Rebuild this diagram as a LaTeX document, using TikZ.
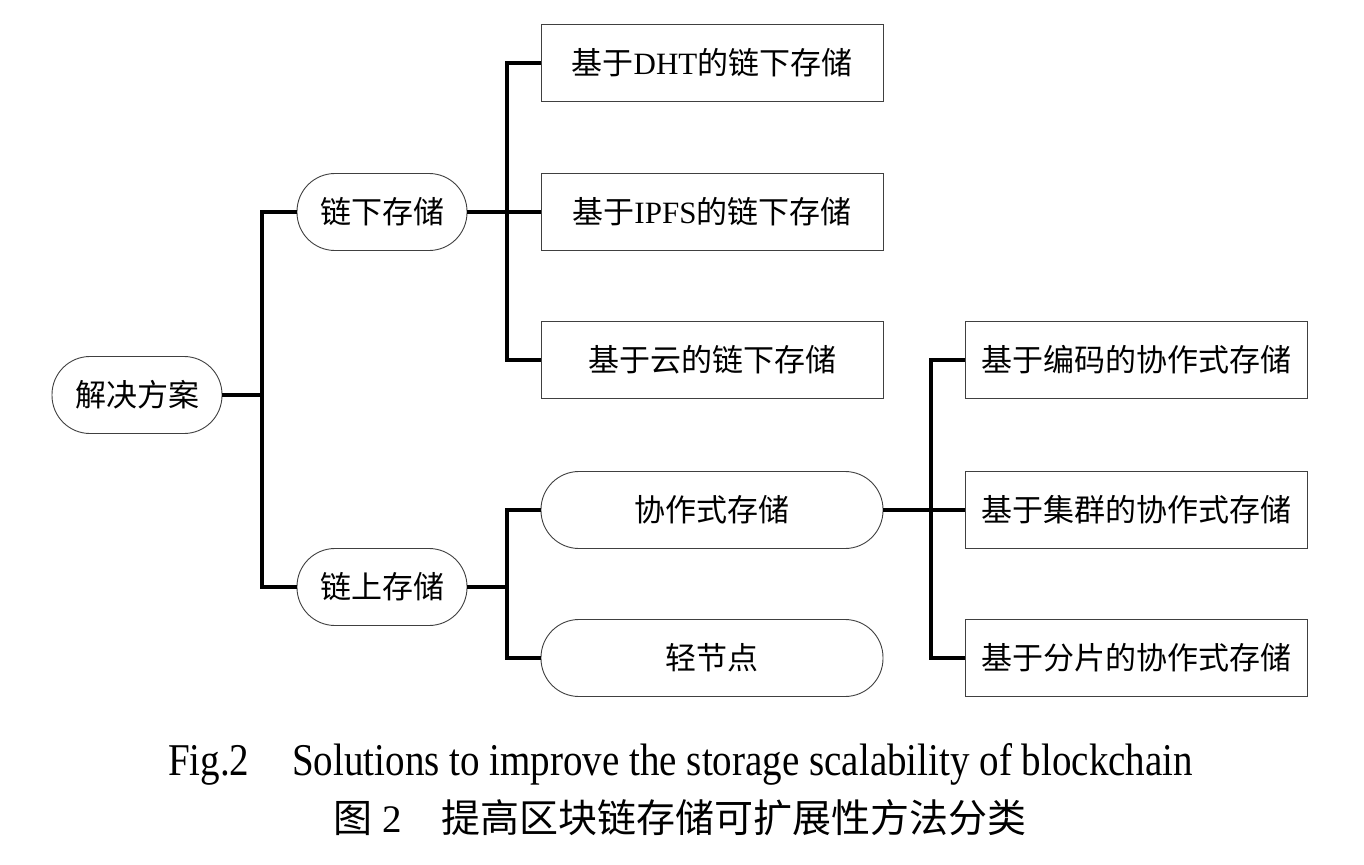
\documentclass[tikz,border=0pt]{standalone}
\usepackage{fontspec}
\setmainfont{Liberation Serif}
\newfontfamily\cjk{Noto Sans CJK SC}
\begin{document}
\begin{tikzpicture}[x=1pt,y=-1pt,
  box/.style={draw=black!75, line width=0.9pt, fill=white,
    minimum width=342pt, minimum height=77pt, inner sep=0pt,
    font=\fontsize{31}{31}\selectfont\cjk},
  pill/.style={box, minimum width=170pt, rounded corners=38pt},
  wide pill/.style={box, rounded corners=38pt},
  link/.style={line width=3.2pt, black}]
\useasboundingbox (0,0) rectangle (1364,864);

% tree nodes
\node[pill] (root) at (137,395) {解决方案};
\node[pill] (off) at (382,212) {链下存储};
\node[pill] (on)  at (382,587) {链上存储};
\node[box] (dht)  at (712,63)  {基于{\rmfamily DHT}的链下存储};
\node[box] (ipfs) at (712,212) {基于{\rmfamily IPFS}的链下存储};
\node[box] (cloud) at (712,360) {基于云的链下存储};
\node[wide pill] (coop)  at (712,510) {协作式存储};
\node[wide pill] (light) at (712,658) {轻节点};
\node[box] (code)    at (1136,360) {基于编码的协作式存储};
\node[box] (cluster) at (1136,510) {基于集群的协作式存储};
\node[box] (shard)   at (1136,658) {基于分片的协作式存储};

% junction points of the elbow connectors
\coordinate (j1) at (262,395);
\coordinate (j2) at (507,212);
\coordinate (j3) at (507,587);
\coordinate (j4) at (931,510);

\draw[link] (root.east) -- (j1);
\draw[link] (off.west) -| (j1);
\draw[link] (on.west) -| (j1);

\draw[link] (off.east) -- (j2);
\draw[link] (dht.west) -| (j2);
\draw[link] (ipfs.west) -- (j2);
\draw[link] (cloud.west) -| (j2);

\draw[link] (on.east) -- (j3);
\draw[link] (coop.west) -| (j3);
\draw[link] (light.west) -| (j3);

\draw[link] (coop.east) -- (j4);
\draw[link] (code.west) -| (j4);
\draw[link] (cluster.west) -- (j4);
\draw[link] (shard.west) -| (j4);

% captions
\node[anchor=base, inner sep=0pt] (capen) at (680.5,775)
  {\resizebox{1025pt}{32pt}{\fontsize{40}{40}\selectfont Fig.2\hspace{1.1em}Solutions to improve the storage scalability of blockchain}};
\node[inner sep=0pt, font=\fontsize{39}{39}\selectfont] (capzh) at (680,818)
  {{\cjk 图}\hspace{0.25em}2\hspace{1em}{\cjk 提高区块链存储可扩展性方法分类}};
\end{tikzpicture}
\end{document}
